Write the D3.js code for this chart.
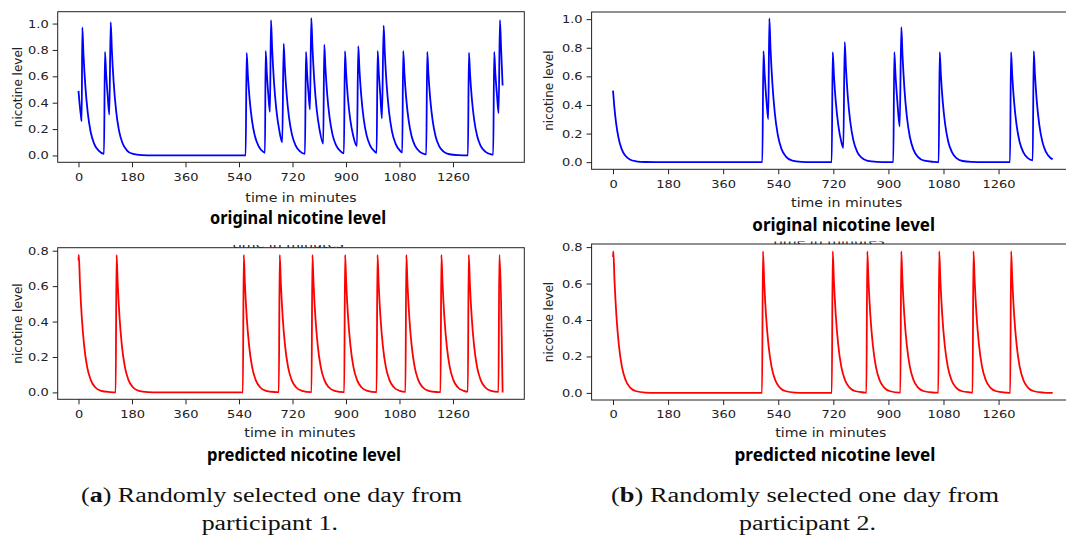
<!DOCTYPE html>
<html>
<head>
<meta charset="utf-8">
<script src="https://cdn.jsdelivr.net/npm/d3@7"></script>
<style>
  body { margin: 0; background: #fff; }
  svg { display: block; }
</style>
</head>
<body>
<svg id="chart" width="1066" height="545"></svg>
<script>
/* values: [minute, nicotine level] */
var xTicks = [0, 180, 360, 540, 720, 900, 1080, 1260];
var yTicksOriginal = [0, 0.2, 0.4, 0.6, 0.8, 1.0];
var yTicksPredicted = [0, 0.2, 0.4, 0.6, 0.8];

var originalA = [
  [0,0.49],[4,0.385],[8,0.303],[10.7,0.26],
  [12.8,0.97],[16.8,0.763],[22.8,0.533],[30.8,0.33],[40.8,0.18],[52.8,0.088],[67.8,0.036],[85.8,0.012],
  [89,0.785],[93,0.618],[98,0.46],[103.7,0.31],
  [108.3,1.01],[112.3,0.795],[118.3,0.555],[126.3,0.343],[136.3,0.188],[148.3,0.092],[163.3,0.037],[183.3,0.011],[213.3,0.002],[250,0],[562.4,0],
  [565.8,0.777],[569.8,0.612],[575.8,0.427],[583.8,0.264],[593.8,0.145],[605.8,0.071],[620.8,0.029],[627.4,0.02],
  [629.7,0.792],[633.7,0.623],[638.7,0.46],[644.2,0.33],
  [647.6,1.025],[651.6,0.807],[657.6,0.563],[665.6,0.349],[675.6,0.19],[685.6,0.1],
  [690.3,0.848],[694.3,0.667],[700.3,0.466],[708.3,0.288],[718.3,0.158],[730.3,0.077],[745.3,0.031],[762,0.012],
  [765.3,0.785],[769.3,0.618],[774,0.47],[778.8,0.35],
  [783.2,1.042],[787.2,0.82],[793.2,0.572],[801.2,0.354],[811.2,0.194],[823.5,0.09],
  [826.9,0.841],[830.9,0.662],[836.9,0.462],[844.9,0.286],[854.9,0.156],[866.9,0.077],[881.9,0.031],[893.1,0.016],
  [896.5,0.79],[900.5,0.622],[906.5,0.434],[914.5,0.269],[924.5,0.147],[936.9,0.07],
  [941.3,0.828],[945.3,0.652],[951.3,0.455],[959.3,0.282],[969.3,0.154],[981.3,0.075],[996.3,0.031],[1003.1,0.02],
  [1006.5,0.792],[1010.5,0.623],[1015.5,0.46],[1021,0.28],
  [1026.7,0.985],[1030.7,0.775],[1036.7,0.541],[1044.7,0.335],[1054.7,0.183],[1066.7,0.09],[1081.7,0.036],[1089.3,0.022],
  [1092.6,0.792],[1096.6,0.623],[1102.6,0.435],[1110.6,0.269],[1120.6,0.147],[1132.6,0.072],[1147.6,0.029],[1167.6,0.009],[1170,0.008],
  [1173.4,0.785],[1177.4,0.618],[1183.4,0.431],[1191.4,0.267],[1201.4,0.146],[1213.4,0.071],[1228.4,0.029],[1248.4,0.009],[1278.4,0.002],[1310.3,0],
  [1313.6,0.78],[1317.6,0.614],[1323.6,0.428],[1331.6,0.265],[1341.6,0.145],[1353.6,0.071],[1368.6,0.029],[1388.6,0.009],[1395.4,0.007],
  [1398.7,0.785],[1402.7,0.618],[1408,0.46],[1413.5,0.32],
  [1418,1.025],[1422,0.807],[1427,0.53]
];

var predictedA = [
  [0,0.745],[1,0.776],[5,0.611],[11,0.426],[19,0.264],[29,0.144],[41,0.071],[56,0.029],[76,0.009],[106,0.002],[125,0],
  [128,0.776],[132,0.611],[138,0.426],[146,0.264],[156,0.144],[168,0.071],[183,0.029],[203,0.009],[233,0.002],[270,0],[553,0],
  [556,0.776],[560,0.611],[566,0.426],[574,0.264],[584,0.144],[596,0.071],[611,0.029],[631,0.009],[661,0.002],[674,0.001],
  [677,0.776],[681,0.611],[687,0.426],[695,0.264],[705,0.144],[717,0.071],[732,0.029],[752,0.009],[782,0.002],[784,0.002],
  [787,0.776],[791,0.611],[797,0.426],[805,0.264],[815,0.144],[827,0.071],[842,0.029],[862,0.009],[892,0.002],[894,0.002],
  [897,0.776],[901,0.611],[907,0.426],[915,0.264],[925,0.144],[937,0.071],[952,0.029],[972,0.009],[1002,0.002],[1003,0.002],
  [1006,0.776],[1010,0.611],[1016,0.426],[1024,0.264],[1034,0.144],[1046,0.071],[1061,0.029],[1081,0.009],[1100,0.003],
  [1103,0.776],[1107,0.611],[1113,0.426],[1121,0.264],[1131,0.144],[1143,0.071],[1158,0.029],[1178,0.009],[1208,0.002],[1218,0.001],
  [1221,0.776],[1225,0.611],[1231,0.426],[1239,0.264],[1249,0.144],[1261,0.071],[1276,0.029],[1296,0.009],[1310,0.004],
  [1313,0.776],[1317,0.611],[1323,0.426],[1331,0.264],[1341,0.144],[1353,0.071],[1368,0.029],[1388,0.009],[1413,0.003],
  [1416,0.776],[1427,0]
];

var originalB = [
  [0,0.5],[4,0.394],[10,0.275],[18,0.17],[28,0.093],[40,0.046],[55,0.018],[75,0.006],[105,0.001],[140,0],[488,0],
  [491.6,0.777],[495.6,0.612],[501.6,0.427],[507.4,0.3],
  [510.8,1.005],[514.8,0.791],[520.8,0.552],[528.8,0.342],[538.8,0.187],[550.8,0.091],[565.8,0.037],[585.8,0.011],[615.8,0.002],[650,0],[714.7,0],
  [718,0.77],[722,0.606],[728,0.423],[736,0.262],[746,0.143],[752.7,0.1],
  [757.2,0.84],[761.2,0.661],[767.2,0.461],[775.2,0.286],[785.2,0.156],[797.2,0.076],[812.2,0.031],[832.2,0.009],[862.2,0.002],[900,0],[916,0],
  [919.3,0.77],[923.3,0.606],[929.3,0.423],[936.9,0.25],
  [942.2,0.944],[946.2,0.743],[952.2,0.518],[960.2,0.321],[970.2,0.176],[982.2,0.086],[997.2,0.035],[1017.2,0.01],[1047.2,0.002],[1064.3,0],
  [1067.6,0.77],[1071.6,0.606],[1077.6,0.423],[1085.6,0.262],[1095.6,0.143],[1107.6,0.07],[1122.6,0.028],[1142.6,0.008],[1172.6,0.002],[1210,0],[1297.4,0],
  [1300.7,0.77],[1304.7,0.606],[1310.7,0.423],[1318.7,0.262],[1328.7,0.143],[1340.7,0.07],[1355.7,0.028],[1371.6,0.013],
  [1374.9,0.777],[1378.9,0.612],[1384.9,0.427],[1392.9,0.264],[1402.9,0.145],[1414.9,0.071],[1429.9,0.029],[1436.9,0.02]
];

var predictedB = [
  [0,0.745],[1,0.776],[5,0.611],[11,0.426],[19,0.264],[29,0.144],[41,0.071],[56,0.029],[76,0.009],[106,0.002],[141,0],[487,0],
  [490,0.776],[494,0.611],[500,0.426],[508,0.264],[518,0.144],[530,0.071],[545,0.029],[565,0.009],[595,0.002],[630,0],[715,0],
  [718,0.776],[722,0.611],[728,0.426],[736,0.264],[746,0.144],[758,0.071],[773,0.029],[793,0.009],[823,0.002],[828,0.001],
  [831,0.776],[835,0.611],[841,0.426],[849,0.264],[859,0.144],[871,0.071],[886,0.029],[906,0.009],[936,0.002],[939,0.002],
  [942,0.776],[946,0.611],[952,0.426],[960,0.264],[970,0.144],[982,0.071],[997,0.029],[1017,0.009],[1047,0.002],[1063,0.001],
  [1066,0.776],[1070,0.611],[1076,0.426],[1084,0.264],[1094,0.144],[1106,0.071],[1121,0.029],[1141,0.009],[1171,0.002],[1175,0.001],
  [1178,0.776],[1182,0.611],[1188,0.426],[1196,0.264],[1206,0.144],[1218,0.071],[1233,0.029],[1253,0.009],[1283,0.002],[1298,0],
  [1301,0.776],[1305,0.611],[1311,0.426],[1319,0.264],[1329,0.144],[1341,0.071],[1356,0.029],[1376,0.009],[1406,0.002],[1437,0]
];

var svg = d3.select("#chart");
var plotFont = "'DejaVu Sans', sans-serif";
var titleFont = "'Noto Sans', 'Open Sans', sans-serif";
var captionFont = "'Liberation Serif', 'DejaVu Serif', serif";
var hStretch = 1.18;   // the pasted matplotlib figures are widened a little

/*
 * widen text horizontally, either by a factor or to a fixed width
 */
function stretch(sel, k, width) {
    sel.each(function() {
        var w = width || this.getComputedTextLength() * k;
        d3.select(this).attr("textLength", w).attr("lengthAdjust", "spacingAndGlyphs");
    });
}

var panels = [
    { data: originalA, color: "#0000ff", yTicks: yTicksOriginal,
      left: 57.7, right: 524.3, top: 11.7, bottom: 162.3,
      xDomain: [-70, 1500], yDomain: [-0.052, 1.09],
      ylabelX: 22, xlabel: { x: 301, y: 202.3 },
      title: { text: "original nicotine level", x: 210, y: 224.3, w: 176 } },
    { data: predictedA, color: "#ff0000", yTicks: yTicksPredicted,
      left: 57.7, right: 524.3, top: 247.7, bottom: 399.3,
      xDomain: [-70, 1500], yDomain: [-0.039, 0.817],
      ylabelX: 22, xlabel: { x: 300, y: 436.7 },
      ghost: { x: 288 },
      title: { text: "predicted nicotine level", x: 207, y: 460.5, w: 194 } },
    { data: originalB, color: "#0000ff", yTicks: yTicksOriginal,
      left: 591.6, right: 1072, top: 12, bottom: 169.3,
      xDomain: [-70, 1500], yDomain: [-0.05, 1.05],
      ylabelX: 553, xlabel: { x: 846.7, y: 206.7 },
      title: { text: "original nicotine level", x: 752.3, y: 230.7, w: 182.7 } },
    { data: predictedB, color: "#ff0000", yTicks: yTicksPredicted,
      left: 591.6, right: 1072, top: 244, bottom: 400,
      xDomain: [-70, 1500], yDomain: [-0.039, 0.817],
      ylabelX: 553, xlabel: { x: 830.8, y: 436.7 },
      ghost: { x: 829 },
      title: { text: "predicted nicotine level", x: 734.5, y: 460.7, w: 201 } }
];

var defs = svg.append("defs");

/*
 * one matplotlib subplot with its labels and bold title underneath
 */
function drawPanel(p, i) {
    var x = d3.scaleLinear().domain(p.xDomain).range([p.left, p.right]),
        y = d3.scaleLinear().domain(p.yDomain).range([p.bottom, p.top]),
        g = svg.append("g").attr("class", "panel");

    // a label of the figure above, mostly covered, only its foot shows
    if (p.ghost) {
        defs.append("clipPath").attr("id", "ghost" + i)
            .append("rect").attr("x", 0).attr("y", p.top - 2.6)
            .attr("width", 1066).attr("height", 2.6);
        var gt = g.append("text")
            .attr("clip-path", "url(#ghost" + i + ")")
            .attr("x", p.ghost.x).attr("y", p.top + 0.6)
            .attr("text-anchor", "middle")
            .style("font-family", plotFont).style("font-size", "12px")
            .attr("fill", "#222")
            .text("time in minutes");
        stretch(gt, hStretch);
    }

    var line = d3.line()
        .x(function(d) { return x(d[0]); })
        .y(function(d) { return y(d[1]); })
        .curve(d3.curveMonotoneX);

    g.append("path")
        .datum(p.data)
        .attr("d", line)
        .attr("fill", "none")
        .attr("stroke", p.color)
        .attr("stroke-width", 1.8)
        .attr("stroke-linejoin", "round");

    var xAxis = g.append("g")
        .attr("transform", "translate(0," + p.bottom + ")")
        .call(d3.axisBottom(x).tickValues(xTicks).tickSize(5).tickPadding(5.5)
              .tickFormat(d3.format("d")));
    var yAxis = g.append("g")
        .attr("transform", "translate(" + p.left + ",0)")
        .call(d3.axisLeft(y).tickValues(p.yTicks).tickSize(5).tickPadding(4)
              .tickFormat(d3.format(".1f")));

    [xAxis, yAxis].forEach(function(a) {
        a.select(".domain").remove();
        a.selectAll("line").attr("stroke", "#222");
        a.selectAll("text")
            .attr("fill", "#222")
            .style("font-family", plotFont)
            .style("font-size", "11px");
        stretch(a.selectAll("text"), hStretch);
    });

    g.append("rect")
        .attr("x", p.left).attr("y", p.top)
        .attr("width", p.right - p.left).attr("height", p.bottom - p.top)
        .attr("fill", "none").attr("stroke", "#222").attr("stroke-width", 1);

    var xl = g.append("text")
        .attr("x", p.xlabel.x).attr("y", p.xlabel.y)
        .attr("text-anchor", "middle")
        .style("font-family", plotFont).style("font-size", "12px")
        .attr("fill", "#222")
        .text("time in minutes");
    stretch(xl, hStretch);

    g.append("text")
        .attr("transform", "translate(" + p.ylabelX + "," + ((p.top + p.bottom) / 2) + ") rotate(-90)")
        .attr("text-anchor", "middle")
        .style("font-family", plotFont).style("font-size", "12px")
        .attr("fill", "#222")
        .text("nicotine level");

    var tt = g.append("text")
        .attr("x", p.title.x).attr("y", p.title.y)
        .style("font-family", titleFont).style("font-size", "17px")
        .style("font-weight", "bold")
        .attr("fill", "#000")
        .text(p.title.text);
    stretch(tt, 1, p.title.w);
}

panels.forEach(drawPanel);

/*
 * two-line serif captions under each column
 */
var captions = [
    { letter: "a", rest: ") Randomly selected one day from", second: "participant 1.",
      x1: 81, w1: 381, x2: 201.7, w2: 136.3 },
    { letter: "b", rest: ") Randomly selected one day from", second: "participant 2.",
      x1: 611, w1: 388, x2: 739, w2: 137 }
];

captions.forEach(function(c) {
    var t1 = svg.append("text")
        .attr("x", c.x1).attr("y", 501.7)
        .style("font-family", captionFont).style("font-size", "20px")
        .attr("fill", "#111");
    t1.append("tspan").text("(");
    t1.append("tspan").style("font-weight", "bold").text(c.letter);
    t1.append("tspan").text(c.rest);
    stretch(t1, 1, c.w1);

    var t2 = svg.append("text")
        .attr("x", c.x2).attr("y", 530)
        .style("font-family", captionFont).style("font-size", "20px")
        .attr("fill", "#111")
        .text(c.second);
    stretch(t2, 1, c.w2);
});
</script>
</body>
</html>
